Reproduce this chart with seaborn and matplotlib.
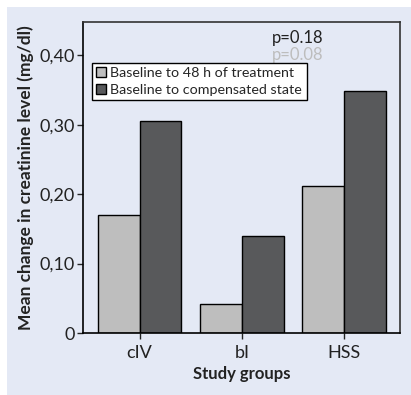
import matplotlib
matplotlib.use("Agg")
import matplotlib.pyplot as plt
import seaborn as sns
import pandas as pd
from matplotlib.patches import Rectangle

groups = ["cIV", "bI", "HSS"]
series = ["Baseline to 48 h of treatment", "Baseline to compensated state"]
vals_48h = [0.170, 0.042, 0.212]
vals_comp = [0.306, 0.140, 0.349]
yticks = [0, 0.10, 0.20, 0.30, 0.40]
ytick_labels = ["0", "0,10", "0,20", "0,30", "0,40"]
p_texts = ["p=0.18", "p=0.08"]

df = pd.DataFrame({
    "group": groups * 2,
    "series": [series[0]] * 3 + [series[1]] * 3,
    "value": vals_48h + vals_comp,
})

sns.set_style("white")
plt.rcParams["font.family"] = ["Lato", "DejaVu Sans"]

BG = "#e4e9f5"
fig = plt.figure(figsize=(4.11, 3.95), dpi=100)
fig.patch.set_facecolor("white")
fig.add_artist(Rectangle((7 / 411, 0), 1, 1 - 7 / 395, transform=fig.transFigure,
                         facecolor=BG, edgecolor="none", zorder=-10))
ax = fig.add_axes([83 / 411, 1 - 333 / 395, (400 - 83) / 411, (333 - 22) / 395])
ax.set_facecolor(BG)

sns.barplot(data=df, x="group", y="value", hue="series", order=groups,
            hue_order=series, palette=["#bebebe", "#58595b"], width=0.82,
            edgecolor="black", linewidth=1.0, ax=ax, saturation=1)

ax.set_xlim(-0.553, 2.548)
ax.set_ylim(0, 0.448)
ax.set_yticks(yticks)
ax.set_yticklabels(ytick_labels, fontsize=13, color="#222222")
ax.tick_params(axis="x", labelsize=13, colors="#222222", length=4, width=1, direction="out", bottom=True, pad=5)
ax.tick_params(axis="y", length=4, width=1, direction="out", left=True, pad=2)
for s in ax.spines.values():
    s.set_color("#333333")
    s.set_linewidth(1.2)
ax.spines["bottom"].set_color("black")
ax.spines["left"].set_color("black")

ax.set_xlabel("Study groups", fontsize=12, fontweight="bold", color="#222222", labelpad=3)
ax.set_ylabel("Mean change in creatinine level (mg/dl)", fontsize=12.5, fontweight="bold",
              color="#222222", labelpad=4)

leg = ax.legend(loc="upper left", bbox_to_anchor=(0.028, 0.868), fontsize=10.3,
                frameon=True, fancybox=False, framealpha=1, edgecolor="black",
                handlelength=0.7, handleheight=0.7, handletextpad=0.3,
                borderpad=0.3, labelspacing=0.3, borderaxespad=0)
leg.get_frame().set_linewidth(1.0)

ax.text(0.595, 0.975, p_texts[0], transform=ax.transAxes, fontsize=12,
        color="#222222", va="top", ha="left")
ax.text(0.595, 0.92, p_texts[1], transform=ax.transAxes, fontsize=12,
        color="#bdbdbd", va="top", ha="left")

fig.savefig("out.png", dpi=100, facecolor=fig.get_facecolor())
